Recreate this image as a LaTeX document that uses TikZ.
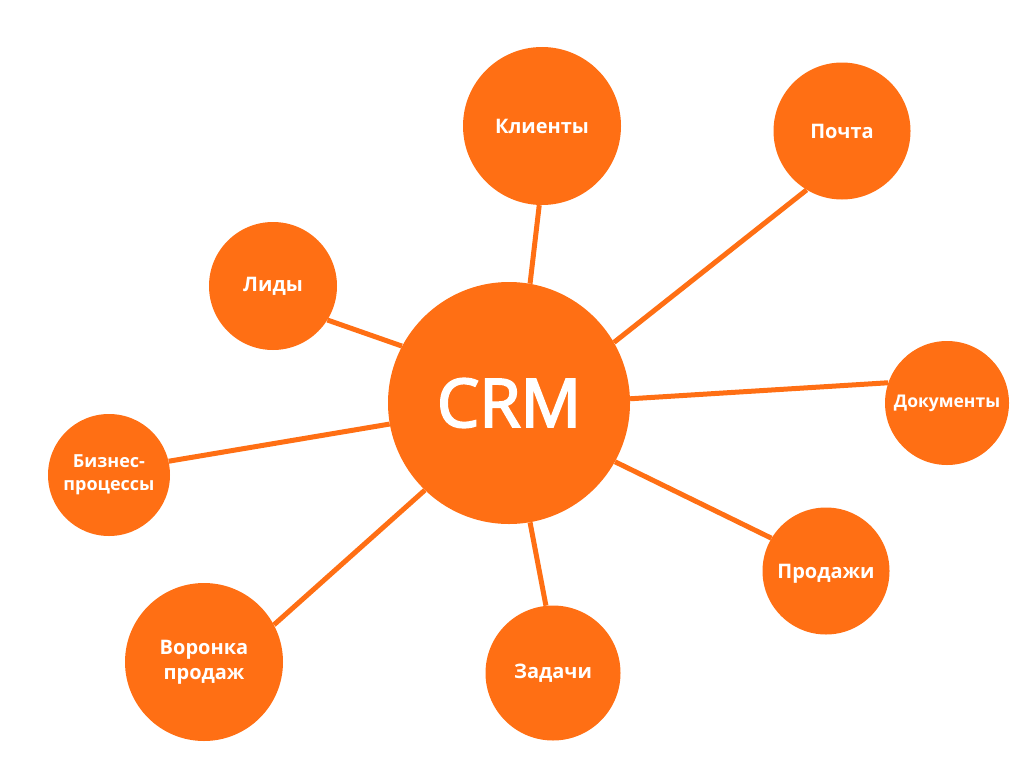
\documentclass[tikz,border=0pt]{standalone}
\usepackage{fontspec}
\setmainfont{Open Sans}
\newfontfamily\crmfont[FakeBold=3]{Open Sans}
\usetikzlibrary{backgrounds}
\definecolor{crmorange}{HTML}{FF6F14}

\begin{document}
\begin{tikzpicture}[x=1pt,y=-1pt,
  bubble/.style={circle,fill=crmorange,inner sep=0pt,align=center,
    text=white,font=\bfseries\fontsize{20}{25}\selectfont},
  spoke/.style={draw=crmorange,line width=5pt}]
\useasboundingbox (0,0) rectangle (1024,768);
% centre
\node[bubble,minimum size=242pt,font=\crmfont\fontsize{67}{72}\selectfont] (crm) at (509,403) {CRM};
% satellites
\node[bubble,minimum size=158pt] (klienty) at (542,126) {Клиенты};
\node[bubble,minimum size=137pt] (pochta) at (842,131) {Почта};
\node[bubble,minimum size=128pt] (lidy) at (273,286) {Лиды};
\node[bubble,minimum size=124pt,font=\bfseries\fontsize{17.5}{20}\selectfont] (dokumenty) at (947,403) {Документы};
\node[bubble,minimum size=122pt,font=\bfseries\fontsize{18}{23}\selectfont] (biznes) at (109,475) {Бизнес-\\процессы};
\node[bubble,minimum size=127pt,text depth=0pt] (prodazhi) at (826,571) {Продажи};
\node[bubble,minimum size=135pt] (zadachi) at (553,673) {Задачи};
\node[bubble,minimum size=158pt] (voronka) at (204,662) {Воронка\\продаж};
% spokes
\begin{scope}[on background layer]
\draw[spoke] (klienty.268.5) -- (crm.80);
\draw[spoke] (pochta.239.6) -- (crm.30.4);
\draw[spoke] (dokumenty.161.6) -- (crm.2.8);
\draw[spoke] (prodazhi.149.5) -- (crm.-29.7);
\draw[spoke] (zadachi.96.9) -- (crm.-80);
\draw[spoke] (voronka.28.2) -- (crm.226.7);
\draw[spoke] (biznes.13.1) -- (crm.190.4);
\draw[spoke] (lidy.-32) -- (crm.152);
\end{scope}
\end{tikzpicture}
\end{document}
